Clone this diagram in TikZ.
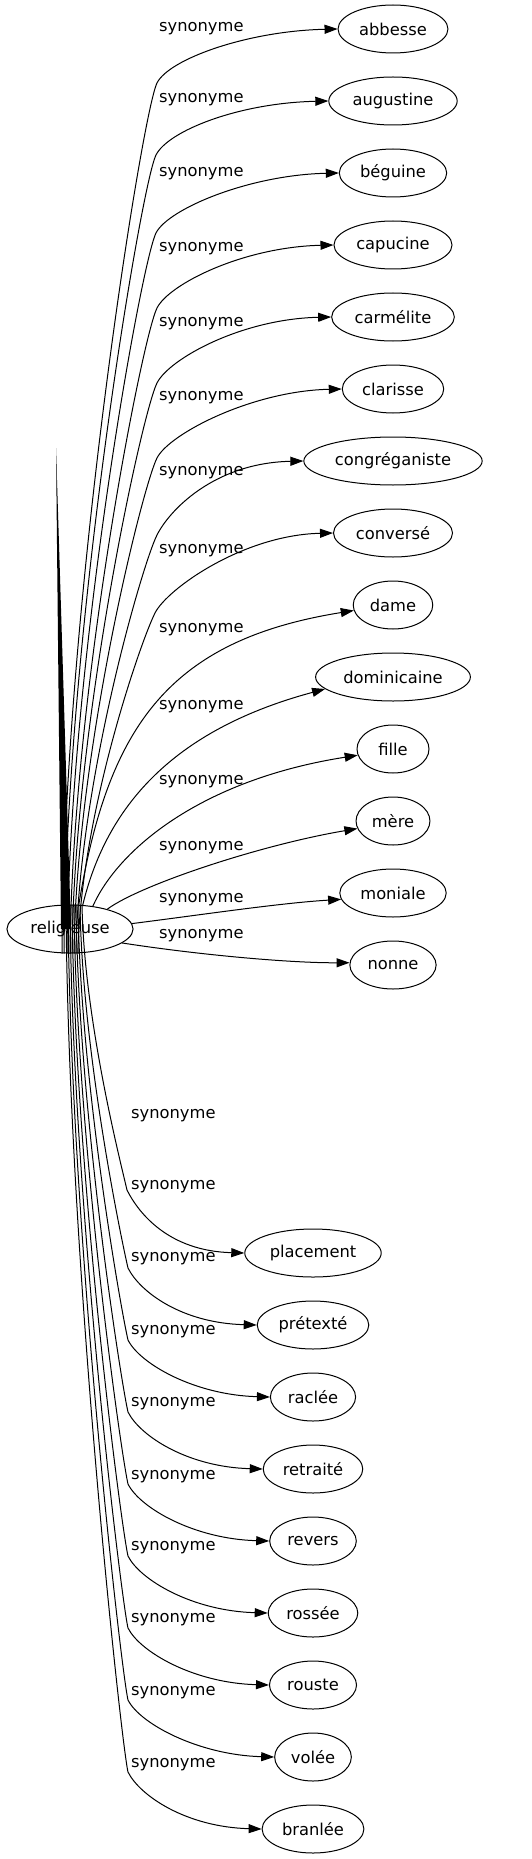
\documentclass[tikz,border=0pt]{standalone}
\usepackage{fontspec}
\setmainfont{DejaVu Sans}
\usetikzlibrary{shapes.geometric,arrows.meta}
\tikzset{
  word/.style={draw, ellipse, line width=1pt, minimum width=72pt, minimum height=48pt, inner xsep=5pt, inner ysep=2pt},
  syn/.style={draw, line width=1pt, -{Triangle[length=13pt,width=9pt]}},
  lab/.style={anchor=west, inner sep=0pt}
}
\newcommand\upedge[4]{%
  \draw[syn] ([xshift=#1pt]rel.south) .. controls +(2,{-0.4*(953-#3)}) and +(-15,30) .. (#2,#3) .. controls +(12,-24) and +(-90,2) .. (#4.west);}
\newcommand\downedge[4]{%
  \draw[syn] ([xshift=#1pt]rel.north) .. controls +(2,{0.4*(#3-905)}) and +(-7,-30) .. (#2,#3) .. controls +(12,24) and +(-75,-2) .. (#4.west);}
\begin{document}
\begin{tikzpicture}[x=1pt,y=-1pt,font=\fontsize{16.3}{19}\selectfont]
\useasboundingbox (0,0) rectangle (532,1859);
% nodes
\node[word] (rel) at (70,929) {religieuse};
\node[word] (abbesse) at (393,29) {abbesse};
\node[word] (augustine) at (393,101) {augustine};
\node[word] (beguine) at (393,173) {béguine};
\node[word] (capucine) at (393,245) {capucine};
\node[word] (carmelite) at (393,317) {carmélite};
\node[word] (clarisse) at (393,389) {clarisse};
\node[word] (congreganiste) at (393,461) {congréganiste};
\node[word] (converse) at (393,533) {conversé};
\node[word] (dame) at (393,605) {dame};
\node[word] (dominicaine) at (393,677) {dominicaine};
\node[word] (fille) at (393,749) {fille};
\node[word] (mere) at (393,821) {mère};
\node[word] (moniale) at (393,893) {moniale};
\node[word] (nonne) at (393,965) {nonne};
\node[word] (placement) at (313,1253) {placement};
\node[word] (pretexte) at (313,1325) {prétexté};
\node[word] (raclee) at (313,1397) {raclée};
\node[word] (retraite) at (313,1469) {retraité};
\node[word] (revers) at (313,1541) {revers};
\node[word] (rossee) at (313,1613) {rossée};
\node[word] (rouste) at (313,1685) {rouste};
\node[word] (volee) at (313,1757) {volée};
\node[word] (branlee) at (313,1829) {branlée};
% wedge
\fill (56,448) -- (61,929) -- (71,929) -- cycle;
% upper edges passing through
\upedge{-8}{157}{83}{abbesse}
\upedge{-6}{156}{155}{augustine}
\upedge{-3}{156}{233}{beguine}
\upedge{0}{157}{308}{capucine}
\upedge{2}{157}{383}{carmelite}
\upedge{4}{157}{458}{clarisse}
\upedge{6}{157}{535}{congreganiste}
\upedge{8}{155}{613}{converse}
% upper edges from the boundary
\draw[syn] (rel.70) .. controls (108,725) and (170,640) .. (dame.188);
\draw[syn] (rel.62) .. controls (108,800) and (180,728) .. (dominicaine.190);
\draw[syn] (rel.45) .. controls (118,850) and (200,780) .. (fille.190);
\draw[syn] (rel.28) .. controls (140,885) and (260,845) .. (mere.192);
\draw[syn] (rel.5) .. controls (200,915) and (280,903) .. (moniale.187);
\draw[syn] (rel.345) .. controls (200,955) and (290,963) .. (nonne.177);
% lower edges
\downedge{12}{127}{1190}{placement}
\downedge{10}{128}{1268}{pretexte}
\downedge{8}{128}{1340}{raclee}
\downedge{6}{128}{1412}{retraite}
\downedge{4}{128}{1484}{revers}
\downedge{2}{128}{1556}{rossee}
\downedge{0}{128}{1628}{rouste}
\downedge{-2}{128}{1700}{volee}
\downedge{-4}{128}{1772}{branlee}
% labels
\foreach \y/\n in {29/la,100/lb,174/lc,249/ld,324/le,398/lf,473/lg,551/lh,630/li,707/lj,782/lk,848/ll,900/lm,936/ln}
  \node[lab] (\n) at (159,\y) {synonyme};
\foreach \y/\n in {1116/ma,1187/mb,1259/mc,1332/md,1404/me,1477/mf,1548/mg,1620/mh,1693/mi,1765/mj}
  \node[lab] (\n) at (131,\y) {synonyme};
\end{tikzpicture}
\end{document}
